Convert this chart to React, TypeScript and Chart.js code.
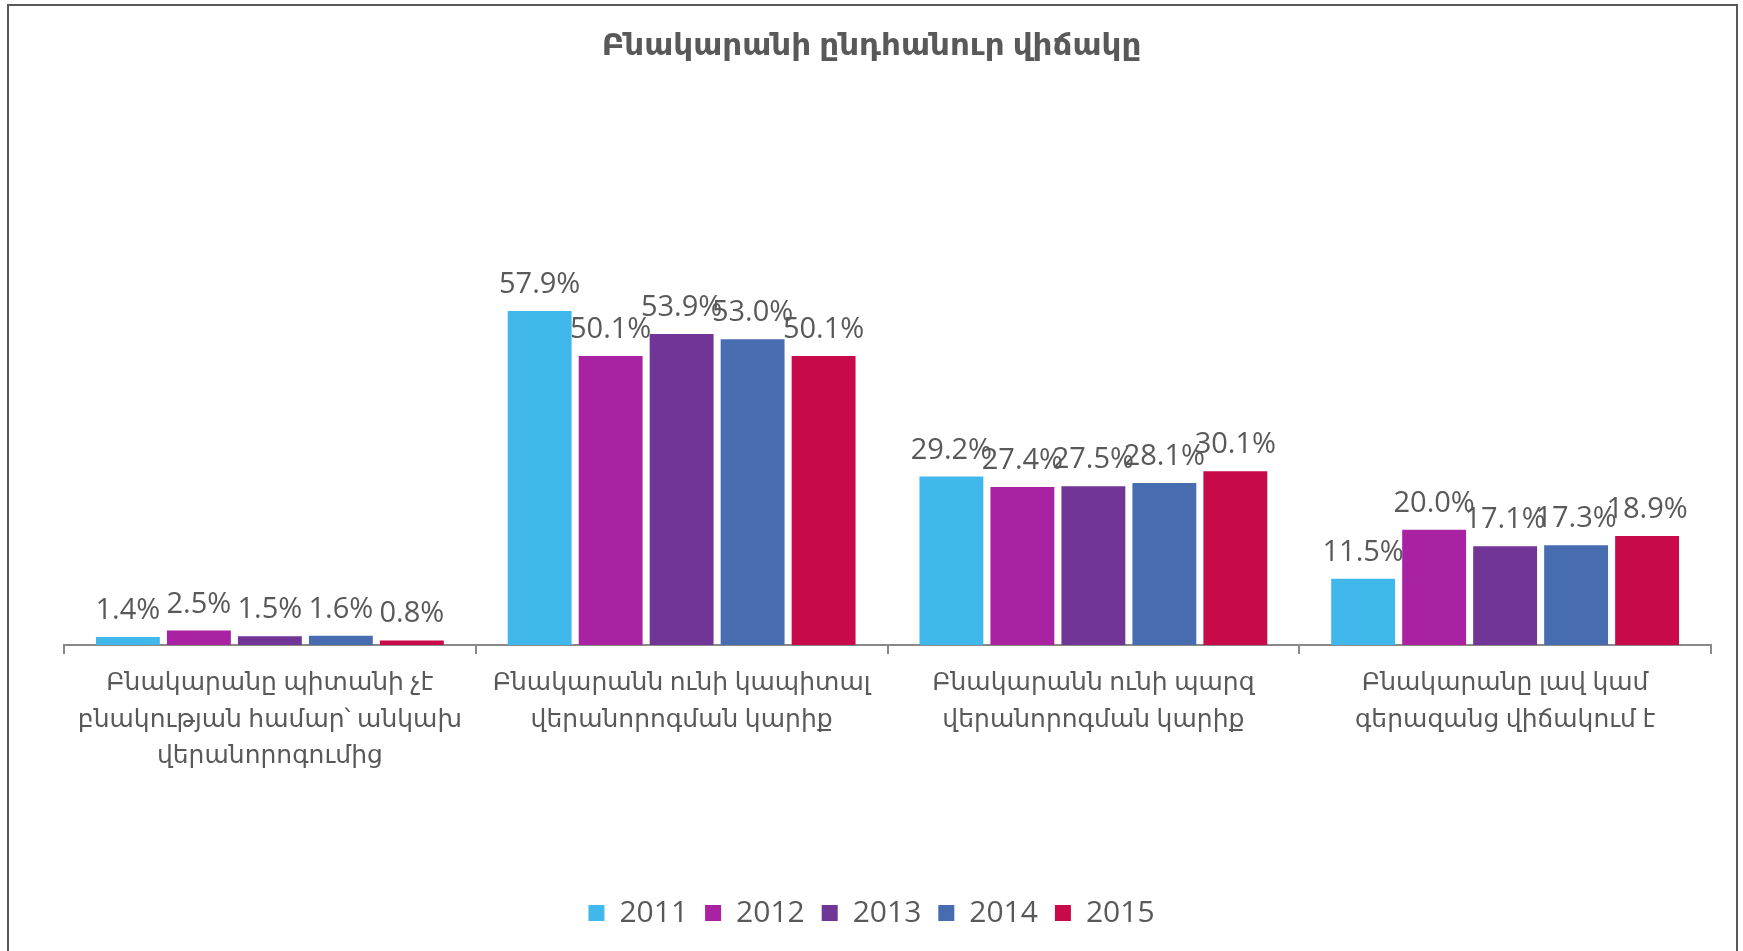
import React, { useEffect, useRef } from "react";
import { Chart, registerables } from "chart.js";

Chart.register(...registerables);

const title = "Բնակարանի ընդհանուր վիճակը";
const categories: string[][] = [
  ["Բնակարանը պիտանի չէ", "բնակության համար՝ անկախ", "վերանորոգումից"],
  ["Բնակարանն ունի կապիտալ", "վերանորոգման կարիք"],
  ["Բնակարանն ունի պարզ", "վերանորոգման կարիք"],
  ["Բնակարանը լավ կամ", "գերազանց վիճակում է"],
];
const years = ["2011", "2012", "2013", "2014", "2015"];
const v2011 = [1.4, 57.9, 29.2, 11.5];
const v2012 = [2.5, 50.1, 27.4, 20.0];
const v2013 = [1.5, 53.9, 27.5, 17.1];
const v2014 = [1.6, 53.0, 28.1, 17.3];
const v2015 = [0.8, 50.1, 30.1, 18.9];
const colors = ["#41B8EC", "#A822A2", "#703597", "#476CB0", "#C90A4A"];

const TEXT = "#595959";
const FONT = "'Open Sans', 'DejaVu Sans', sans-serif";

const valueLabels = {
  id: "valueLabels",
  afterDatasetsDraw(chart: any) {
    const ctx = chart.ctx;
    ctx.save();
    ctx.font = `29px ${FONT}`;
    ctx.fillStyle = TEXT;
    ctx.textAlign = "center";
    ctx.textBaseline = "alphabetic";
    chart.data.datasets.forEach((ds: any, i: number) => {
      const meta = chart.getDatasetMeta(i);
      meta.data.forEach((bar: any, j: number) => {
        const v = ds.data[j];
        ctx.fillText(v.toFixed(1) + "%", bar.x, bar.y - 18);
      });
    });
    ctx.restore();
  },
};

export default function App() {
  const ref = useRef<HTMLCanvasElement>(null);
  useEffect(() => {
    const series = [v2011, v2012, v2013, v2014, v2015];
    const chart = new Chart(ref.current!, {
      type: "bar",
      data: {
        labels: categories,
        datasets: years.map((y, i) => ({
          label: y,
          data: series[i],
          backgroundColor: colors[i],
          borderWidth: 0,
          categoryPercentage: 0.862,
          barPercentage: 0.9,
        })),
      },
      options: {
        animation: false,
        responsive: false,
        maintainAspectRatio: false,
        layout: { padding: { top: 6, left: 32, right: 32, bottom: 13 } },
        plugins: {
          title: {
            display: true,
            text: title,
            color: TEXT,
            font: { family: FONT, size: 31, weight: "bold" },
            padding: { top: 22, bottom: 176 },
          },
          legend: {
            position: "bottom",
            labels: {
              color: TEXT,
              font: { family: FONT, size: 30 },
              boxWidth: 16,
              boxHeight: 16,
              padding: 17,
            },
          },
          tooltip: { enabled: false },
        },
        scales: {
          x: {
            offset: true,
            grid: {
              display: true,
              offset: true,
              drawOnChartArea: false,
              drawTicks: true,
              tickLength: 9,
              color: "#898989",
              lineWidth: 2,
            },
            border: { display: true, color: "#898989", width: 2 },
            ticks: {
              color: TEXT,
              font: { family: FONT, size: 25, lineHeight: 1.45 },
              padding: 11,
              maxRotation: 0,
              autoSkip: false,
            },
            afterFit: (scale: any) => {
              scale.height = 236;
            },
          },
          y: {
            display: true,
            min: 0,
            max: 70,
            grid: { display: false },
            border: { display: false },
            ticks: { display: false },
            afterFit: (scale: any) => {
              scale.width = 32;
            },
          },
        },
      },
      plugins: [valueLabels],
    });
    return () => chart.destroy();
  }, []);
  return (
    <div style={{ position: "fixed", left: 0, top: 0, width: 1743, height: 951, background: "#fff" }}>
      <canvas ref={ref} width={1743} height={951} style={{ display: "block", width: 1743, height: 951 }} />
      <div
        style={{
          position: "absolute",
          left: 7,
          top: 4,
          width: 1727,
          height: 960,
          borderLeft: "2px solid #595959",
          borderTop: "2px solid #595959",
          borderRight: "2px solid #595959",
          pointerEvents: "none",
        }}
      />
    </div>
  );
}
